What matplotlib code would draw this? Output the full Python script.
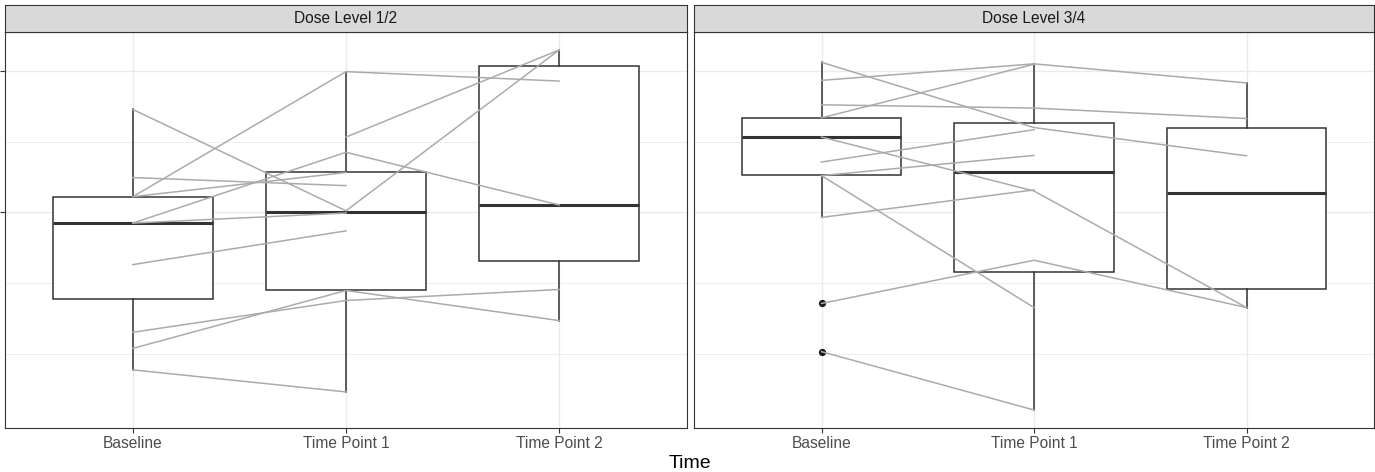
import numpy as np
import matplotlib.pyplot as plt

plt.rcParams['font.family'] = ['Liberation Sans', 'DejaVu Sans']

times = ["Baseline", "Time Point 1", "Time Point 2"]
panels = ["Dose Level 1/2", "Dose Level 3/4"]

# per-subject values at (Baseline, Time Point 1, Time Point 2); nan = missing visit
subjects_12 = [
    [72.8, 1.1, 114.9],
    [11.1, 99.6, 92.9],
    [np.nan, 53.3, 114.9],
    [24.6, 18.9, np.nan],
    [11.1, 28.2, np.nan],
    [-7.6, 42.5, 5.2],
    [-7.6, -0.5, np.nan],
    [-37.0, -13.1, np.nan],
    [-84.9, -62.4, -54.6],
    [-96.3, -55.3, -76.6],
    [-111.5, -127.1, np.nan],
]
subjects_34 = [
    [106.2, 60.0, 40.0],
    [93.4, 105.1, 91.6],
    [76.1, 73.8, 66.4],
    [66.9, 104.8, np.nan],
    [53.3, 15.1, -67.4],
    [35.6, 58.5, np.nan],
    [26.0, 40.3, np.nan],
    [26.0, -67.4, np.nan],
    [-3.6, 15.9, np.nan],
    [-64.5, -33.9, -67.4],
    [-98.6, -139.9, np.nan],
]

# box summaries (per time point)
whishi_12 = [72.8, 99.6, 114.9]
q3_12 = [10.9, 28.2, 103.3]
med_12 = [-7.6, 0.2, 5.0]
q1_12 = [-61.0, -55.3, -34.6]
whislo_12 = [-111.5, -127.1, -76.6]
fliers_12 = [[], [], []]

whishi_34 = [106.2, 105.1, 91.6]
q3_34 = [66.9, 63.2, 59.7]
med_34 = [53.3, 28.3, 13.5]
q1_34 = [26.2, -42.1, -54.2]
whislo_34 = [-3.6, -139.9, -67.4]
fliers_34 = [[-64.5, -98.6], [], []]

panel_data = [
    (subjects_12, whishi_12, q3_12, med_12, q1_12, whislo_12, fliers_12),
    (subjects_34, whishi_34, q3_34, med_34, q1_34, whislo_34, fliers_34),
]

W, H = 1375, 472
fig = plt.figure(figsize=(W / 100, H / 100), dpi=100)

all_vals = np.concatenate([np.ravel(s) for s in (subjects_12, subjects_34)])
lo, hi = np.nanmin(all_vals), np.nanmax(all_vals)
pad = 0.05 * (hi - lo)

panel_x = [(5, 687), (694, 1374)]
top, bottom, strip_top = 32, 428, 5
grid_col = "#EBEBEB"
dark = "#333333"
x = np.arange(1, 4)

for i, (title, (subs, whi, q3, med, q1, wlo, fl)) in enumerate(zip(panels, panel_data)):
    x0, x1 = panel_x[i]
    ax = fig.add_axes([x0 / W, 1 - bottom / H, (x1 - x0) / W, (bottom - top) / H])
    ax.set_xlim(0.4, 3.6)
    ax.set_ylim(lo - pad, hi + pad)
    ax.set_axisbelow(True)

    stats = [dict(med=med[k], q1=q1[k], q3=q3[k], whislo=wlo[k], whishi=whi[k],
                  fliers=fl[k]) for k in range(3)]
    ax.bxp(stats, positions=x, widths=0.75, showcaps=False, patch_artist=True,
           boxprops=dict(facecolor="white", edgecolor=dark, linewidth=1.1),
           whiskerprops=dict(color=dark, linewidth=1.1),
           medianprops=dict(color=dark, linewidth=2.2),
           flierprops=dict(marker="o", markerfacecolor="#1A1A1A",
                           markeredgecolor="#1A1A1A", markersize=4.2))
    for s in subs:
        ax.plot(x, s, color="#ABABAB", lw=1.1, zorder=4)

    ax.set_xticks(x, times)
    ax.set_yticks([0, 100])
    ax.set_yticklabels([])
    ax.set_yticks([-100, -50, 50], minor=True)
    ax.set_xticks([], minor=True)
    ax.grid(which="major", color=grid_col, lw=1.0)
    ax.grid(which="minor", axis="y", color=grid_col, lw=0.6)
    ax.tick_params(axis="x", length=3.5, width=0.8, color=dark,
                   labelcolor="#4D4D4D", labelsize=11.2, pad=2)
    ax.tick_params(axis="y", which="major", length=3.5 if i == 0 else 0,
                   width=0.8, color=dark)
    ax.tick_params(axis="y", which="minor", length=0)
    for sp in ax.spines.values():
        sp.set_color(dark)
        sp.set_linewidth(0.8)

    sax = fig.add_axes([x0 / W, 1 - top / H, (x1 - x0) / W, (top - strip_top) / H])
    sax.set_facecolor("#D9D9D9")
    sax.set_xticks([])
    sax.set_yticks([])
    for sp in sax.spines.values():
        sp.set_color(dark)
        sp.set_linewidth(0.8)
    sax.text(0.5, 0.5, title, ha="center", va="center", fontsize=11.2,
             color="#1A1A1A", transform=sax.transAxes)

fig.text(689.5 / W, 1 - 463 / H, "Time", ha="center", va="center",
         fontsize=14, color="black")

fig.savefig("out.png", dpi=100)
